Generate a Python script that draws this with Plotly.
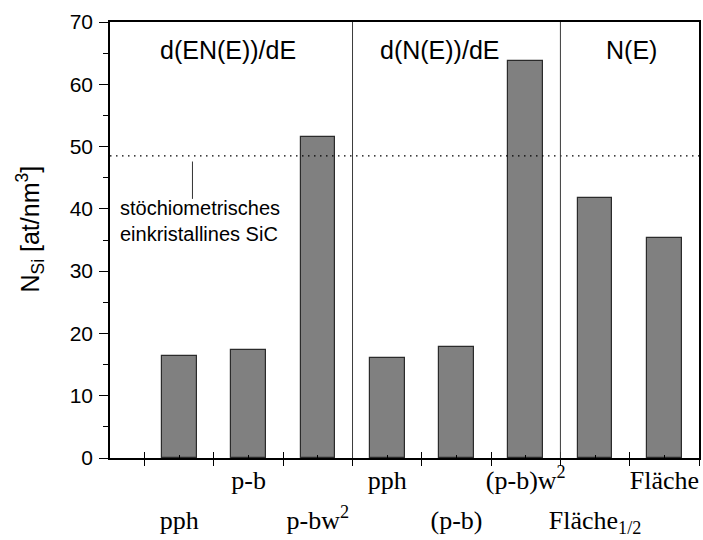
import plotly.graph_objects as go

# Silicon atom densities from the different evaluation methods
bar_pos = [1.5, 2.5, 3.5, 4.5, 5.5, 6.5, 7.5, 8.5]
n_si = [16.3, 17.4, 51.6, 16.0, 17.9, 63.7, 41.7, 35.4]

# Tick labels, alternating between a lower and an upper row
upper_pos = [2.5, 4.5, 6.5, 8.5]
upper_text = ["p-b", "pph", "(p-b)w<sup>2</sup>", "Fläche"]
lower_pos = [1.5, 3.5, 5.5, 7.5]
lower_text = ["pph", "p-bw<sup>2</sup>", "(p-b)", "Fläche<sub>1/2</sub>"]

# Method groups: header text, header x position, right-hand separator
group_names = ["d(EN(E))/dE", "d(N(E))/dE", "N(E)"]
group_label_x = [2.2, 5.25, 8.03]
group_separators = [4, 7]

stoich_sic = 48.5  # stoichiometric single-crystal SiC

X_RANGE = [0.5, 9.0]
major_ticks = list(range(1, 10))
SANS = "Liberation Sans, Arial, sans-serif"
SERIF = "Liberation Serif, Times New Roman, serif"

fig = go.Figure()
fig.add_trace(go.Bar(
    x=bar_pos, y=n_si, width=0.5,
    marker=dict(color="#808080", line=dict(color="#2b2b2b", width=1.2)),
    showlegend=False, hoverinfo="skip",
))
# placeholders so the overlay axes get drawn
for ax in ["x2", "x3", "x4"]:
    fig.add_trace(go.Scatter(x=[None], y=[None], xaxis=ax, yaxis="y",
                             showlegend=False, hoverinfo="skip"))

common_x = dict(range=X_RANGE, showgrid=False, zeroline=False, fixedrange=True)
fig.update_layout(
    width=703, height=540,
    margin=dict(l=110, r=2, t=22, b=81),
    paper_bgcolor="white", plot_bgcolor="white",
    font=dict(family=SANS, color="black"),
    xaxis=dict(**common_x, tickmode="array", tickvals=major_ticks,
               ticks="outside", ticklen=6, tickwidth=1.3, tickcolor="black",
               showticklabels=False, showline=True, linecolor="black",
               linewidth=1.5, mirror=True),
    xaxis2=dict(**common_x, overlaying="x", anchor="y", side="bottom",
                tickmode="array", tickvals=major_ticks, ticks="inside",
                ticklen=6, tickwidth=1.3, tickcolor="black",
                showticklabels=False, showline=False,
                minor=dict(tickmode="array", tickvals=bar_pos, ticks="inside",
                           ticklen=3, tickwidth=1, tickcolor="black")),
    xaxis3=dict(**common_x, overlaying="x", anchor="y", side="bottom",
                tickmode="array", tickvals=upper_pos, ticktext=upper_text,
                ticks="", showline=False, ticklabelstandoff=4,
                tickfont=dict(family=SERIF, size=26, color="black")),
    xaxis4=dict(**common_x, overlaying="x", anchor="y", side="bottom",
                tickmode="array", tickvals=lower_pos, ticktext=lower_text,
                ticks="", showline=False, ticklabelstandoff=44,
                tickfont=dict(family=SERIF, size=26, color="black")),
    yaxis=dict(range=[0, 70], tickmode="linear", tick0=0, dtick=10,
               ticks="outside", ticklen=9, tickwidth=1.3, tickcolor="black",
               minor=dict(dtick=5, ticks="outside", ticklen=5, tickwidth=1.3,
                          tickcolor="black"),
               showline=True, linecolor="black", linewidth=1.5, mirror=True,
               showgrid=False, zeroline=False, fixedrange=True,
               ticklabelstandoff=2,
               tickfont=dict(family=SANS, size=21, color="black")),
    bargap=0,
)

# axis title, rotated
fig.add_annotation(xref="paper", yref="paper", x=-0.135, y=0.525,
                   text="N<sub>Si</sub> [at/nm<sup>3</sup>]", textangle=-90,
                   showarrow=False, xanchor="center", yanchor="middle",
                   font=dict(family=SANS, size=25, color="black"))

# reference level for stoichiometric SiC
fig.add_shape(type="line", xref="paper", yref="y", x0=0, x1=1,
              y0=stoich_sic, y1=stoich_sic,
              line=dict(color="black", width=1.2, dash="1.5px,4.5px"))
fig.add_shape(type="line", xref="x", yref="y", x0=1.69, x1=1.69,
              y0=stoich_sic - 6.9, y1=stoich_sic - 0.9,
              line=dict(color="#333333", width=1))
fig.add_annotation(x=0.62, y=38.0, xref="x", yref="y",
                   text="stöchiometrisches<br>einkristallines SiC",
                   showarrow=False, xanchor="left", yanchor="middle", align="left",
                   font=dict(family=SANS, size=20, color="black"))

# group separators and headers
for sx in group_separators:
    fig.add_shape(type="line", xref="x", yref="paper", x0=sx, x1=sx, y0=0, y1=1,
                  line=dict(color="#3a3a3a", width=1))
for name, gx in zip(group_names, group_label_x):
    fig.add_annotation(x=gx, y=65.5, xref="x", yref="y", text=name,
                       showarrow=False, xanchor="center", yanchor="middle",
                       font=dict(family=SANS, size=25, color="black"))

fig.write_html("out.html")
